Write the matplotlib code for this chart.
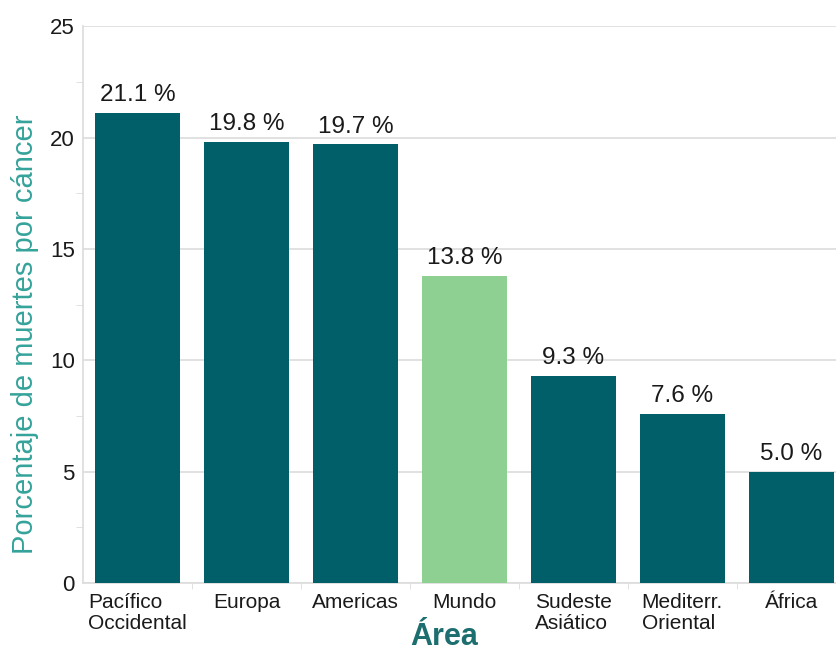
import matplotlib
matplotlib.use('Agg')
import matplotlib.pyplot as plt
import numpy as np

# ── data ──
areas = ['Pacífico\nOccidental', 'Europa', 'Americas', 'Mundo',
         'Sudeste\nAsiático', 'Mediterr.\nOriental', 'África']
values = [21.1, 19.8, 19.7, 13.8, 9.3, 7.6, 5.0]
highlight = 'Mundo'

DARK = '#005f68'
LIGHT = '#8ecf92'
GRID = '#dcdcdc'

plt.rcParams['font.family'] = ['Liberation Sans', 'DejaVu Sans']

fig = plt.figure(figsize=(8.36, 6.54), dpi=100)
ax = fig.add_axes([0.0993, 0.1086, 0.9007, 0.8514])

x = np.arange(len(areas))
colors = [LIGHT if a == highlight else DARK for a in areas]
ax.bar(x, values, width=0.78, color=colors, zorder=3)

for xi, v in zip(x, values):
    ax.text(xi, v + 0.3, f'{v:.1f} %', ha='center', va='bottom',
            fontsize=17.5, color='#1a1a1a', zorder=4)

ax.set_xlim(-0.5, 6.41)
ax.set_ylim(0, 25)
ax.set_yticks([0, 5, 10, 15, 20, 25])
ax.set_yticks(np.arange(2.5, 25, 5), minor=True)
ax.set_xticks(x)
ax.set_xticklabels(areas, fontsize=15, color='#1a1a1a', multialignment='left',
                   linespacing=1.15)
ax.set_xticks(np.arange(0.5, 6, 1), minor=True)
ax.tick_params(axis='x', which='major', length=0, pad=7)
ax.tick_params(axis='x', which='minor', length=4, color=GRID)
ax.tick_params(axis='y', which='major', length=0, pad=6, labelsize=16,
               labelcolor='#1a1a1a')
ax.tick_params(axis='y', which='minor', length=5, color=GRID)

ax.grid(axis='y', which='major', color=GRID, linewidth=1.2, zorder=0)
for s in ['top', 'right']:
    ax.spines[s].set_visible(False)
for s in ['left', 'bottom']:
    ax.spines[s].set_color(GRID)
    ax.spines[s].set_linewidth(1.2)

ax.set_ylabel('Porcentaje de muertes por cáncer', fontsize=21, color='#35a39b')
ax.yaxis.set_label_coords(-0.058, 0.447)
ax.set_xlabel('Área', fontsize=22, fontweight='bold', color='#1d6e6e')
ax.xaxis.set_label_coords(0.48, -0.07)

fig.savefig('out.png', dpi=100, facecolor='white')
